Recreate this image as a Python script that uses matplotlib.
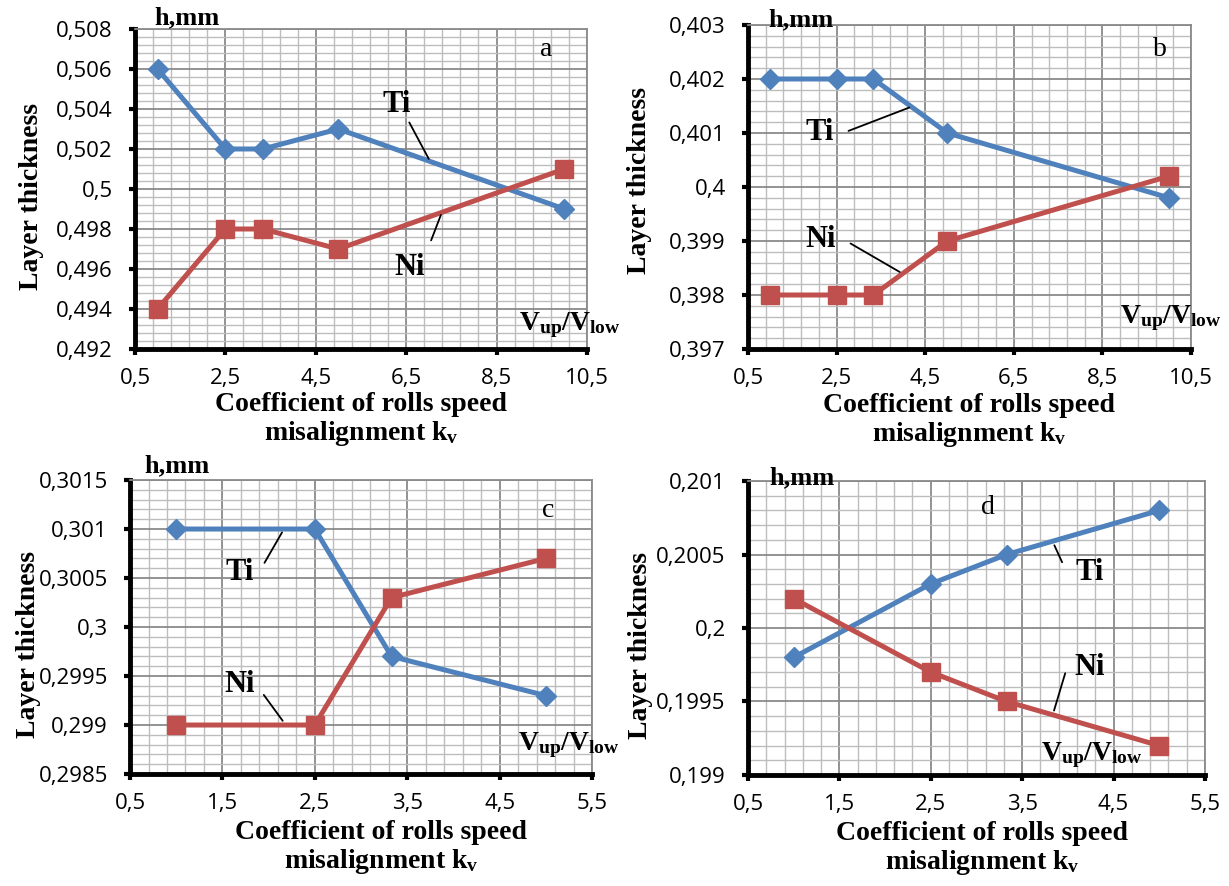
import matplotlib
matplotlib.use("Agg")
import matplotlib.pyplot as plt
from matplotlib.ticker import FuncFormatter

TI_COLOR = "#4F81BD"
NI_COLOR = "#C0504D"
SERIF = "Liberation Serif"
TICK_FONT = "Open Sans"

# coefficient of rolls speed misalignment k_v
KV_WIDE = [1, 2.5, 3.33, 5, 10]
KV_NARROW = [1, 2.5, 3.33, 5]

# layer thickness h, mm
TI_A = [0.506, 0.502, 0.502, 0.503, 0.499]
NI_A = [0.494, 0.498, 0.498, 0.497, 0.501]
TI_B = [0.402, 0.402, 0.402, 0.401, 0.3998]
NI_B = [0.398, 0.398, 0.398, 0.399, 0.4002]
TI_C = [0.301, 0.301, 0.2997, 0.2993]
NI_C = [0.299, 0.299, 0.3003, 0.3007]
TI_D = [0.1998, 0.2003, 0.2005, 0.2008]
NI_D = [0.2002, 0.1997, 0.1995, 0.1992]

PANELS = [
    {
        "letter": "a", "x": KV_WIDE, "ti": TI_A, "ni": NI_A,
        "rect": [0.1098, 0.6061, 0.3678, 0.3612],
        "xlim": (0.5, 10.5, 2.0, 0.4), "ylim": (0.492, 0.508, 0.002, 0.0004),
        "letter_xy": (9.6, 0.50695),
        "ti_xy": (6.3, 0.5042), "ti_lead": ((6.54, 0.50345), (7.03, 0.50138)),
        "ni_xy": (6.58, 0.49605), "ni_lead": ((7.03, 0.4973), (7.29, 0.49883)),
        "v_xy": (0.85, 0.06), "h_xy": (0.044, 1.034),
        "ylab_xy": (-0.228, 0.475), "xlab_xy": (0.5, -0.135),
    },
    {
        "letter": "b", "x": KV_WIDE, "ti": TI_B, "ni": NI_B,
        "rect": [0.6086, 0.6061, 0.3605, 0.3657],
        "xlim": (0.5, 10.5, 2.0, 0.4), "ylim": (0.397, 0.403, 0.001, 0.0002),
        "letter_xy": (9.8, 0.40254),
        "ti_xy": (2.13, 0.401), "ti_lead": ((2.71, 0.40102), (4.20, 0.40149)),
        "ni_xy": (2.13, 0.39902), "ni_lead": ((2.76, 0.39898), (3.98, 0.3984)),
        "v_xy": (0.84, 0.08), "h_xy": (0.047, 1.015),
        "ylab_xy": (-0.244, 0.52), "xlab_xy": (0.5, -0.135),
    },
    {
        "letter": "c", "x": KV_NARROW, "ti": TI_C, "ni": NI_C,
        "rect": [0.1058, 0.1264, 0.3759, 0.3318],
        "xlim": (0.5, 5.5, 1.0, 0.2), "ylim": (0.2985, 0.3015, 0.0005, 0.0001),
        "letter_xy": (5.02, 0.30119),
        "ti_xy": (1.69, 0.30056), "ti_lead": ((1.94, 0.30063), (2.16, 0.30099)),
        "ni_xy": (1.69, 0.29941), "ni_lead": ((1.93, 0.29933), (2.17, 0.29902)),
        "v_xy": (0.84, 0.082), "h_xy": (0.032, 1.048),
        "ylab_xy": (-0.22, 0.44), "xlab_xy": (0.543, -0.155),
    },
    {
        "letter": "d", "x": KV_NARROW, "ti": TI_D, "ni": NI_D,
        "rect": [0.6086, 0.1253, 0.3718, 0.3318],
        "xlim": (0.5, 5.5, 1.0, 0.2), "ylim": (0.199, 0.201, 0.0005, 0.0001),
        "letter_xy": (3.13, 0.20082),
        "ti_xy": (4.24, 0.20038), "ti_lead": ((3.95, 0.20043), (3.84, 0.20058)),
        "ni_xy": (4.24, 0.19973), "ni_lead": ((3.98, 0.19971), (3.84, 0.19942)),
        "v_xy": (0.641, 0.051), "h_xy": (0.046, 1.01),
        "ylab_xy": (-0.236, 0.44), "xlab_xy": (0.513, -0.155),
    },
]


def configure_plot_style() -> None:
    plt.rcParams.update(
        {
            "mathtext.fontset": "custom",
            "mathtext.rm": "Liberation Serif",
            "mathtext.it": "Liberation Serif:italic",
            "mathtext.bf": "Liberation Serif:bold",
        }
    )


def steps(lo, hi, step):
    n = int(round((hi - lo) / step))
    return [lo + i * step for i in range(n + 1)]


def comma_fmt(value, _pos):
    return f"{round(value, 6):g}".replace(".", ",")


def plot_panel(fig, spec) -> None:
    ax = fig.add_axes(spec["rect"])
    x0, x1, xmaj, xmin = spec["xlim"]
    y0, y1, ymaj, ymin = spec["ylim"]
    ax.set_xlim(x0, x1)
    ax.set_ylim(y0, y1)
    ax.set_xticks(steps(x0, x1, xmaj))
    ax.set_xticks(steps(x0, x1, xmin), minor=True)
    ax.set_yticks(steps(y0, y1, ymaj))
    ax.set_yticks(steps(y0, y1, ymin), minor=True)
    ax.xaxis.set_major_formatter(FuncFormatter(comma_fmt))
    ax.yaxis.set_major_formatter(FuncFormatter(comma_fmt))

    ax.set_axisbelow(True)
    ax.grid(which="minor", color="#bdbdbd", linewidth=1.0)
    ax.grid(which="major", color="#8a8a8a", linewidth=1.3)
    for side in ("top", "right"):
        ax.spines[side].set_color("#8a8a8a")
        ax.spines[side].set_linewidth(1.3)
    for side in ("left", "bottom"):
        ax.spines[side].set_color("black")
        ax.spines[side].set_linewidth(3.5)
    ax.tick_params(which="major", direction="out", length=4, width=3, color="black")
    ax.tick_params(which="minor", length=0)
    ax.tick_params(axis="x", pad=10)
    ax.tick_params(axis="y", pad=12)
    for label in ax.get_xticklabels() + ax.get_yticklabels():
        label.set_fontfamily(TICK_FONT)
        label.set_fontsize(16)

    ax.plot(spec["x"], spec["ti"], color=TI_COLOR, linewidth=3.6,
            marker="D", markersize=10, zorder=3)
    ax.plot(spec["x"], spec["ni"], color=NI_COLOR, linewidth=3.6,
            marker="s", markersize=13, zorder=3)

    bold = {"fontfamily": SERIF, "fontweight": "bold"}
    for name in ("ti", "ni"):
        start, end = spec[name + "_lead"]
        ax.annotate("", xy=end, xytext=start,
                    arrowprops={"arrowstyle": "-", "color": "black", "linewidth": 1.3})
        ax.text(*spec[name + "_xy"], name.capitalize(), ha="center", va="center",
                fontsize=22, **bold)

    ax.text(*spec["letter_xy"], spec["letter"], ha="center", va="center",
            fontsize=20, fontfamily=SERIF)
    ax.text(*spec["h_xy"], "h,mm", transform=ax.transAxes, ha="left", va="center",
            fontsize=19, **bold)
    ax.text(*spec["v_xy"], r"$\mathbf{V_{up}/V_{low}}$", transform=ax.transAxes,
            ha="left", va="baseline", fontsize=20)

    ax.set_ylabel("Layer thickness", fontsize=20, va="center", **bold)
    ax.yaxis.set_label_coords(*spec["ylab_xy"])
    ax.set_xlabel("Coefficient of rolls speed\nmisalignment k$_{\\mathbf{v}}$",
                  fontsize=20, linespacing=1.1, **bold)
    ax.xaxis.set_label_coords(*spec["xlab_xy"])


def main() -> None:
    configure_plot_style()
    fig = plt.figure(figsize=(12.29, 8.86), dpi=100)
    for spec in PANELS:
        plot_panel(fig, spec)
    fig.savefig("out.png", dpi=100)
    plt.close(fig)


if __name__ == "__main__":
    main()
